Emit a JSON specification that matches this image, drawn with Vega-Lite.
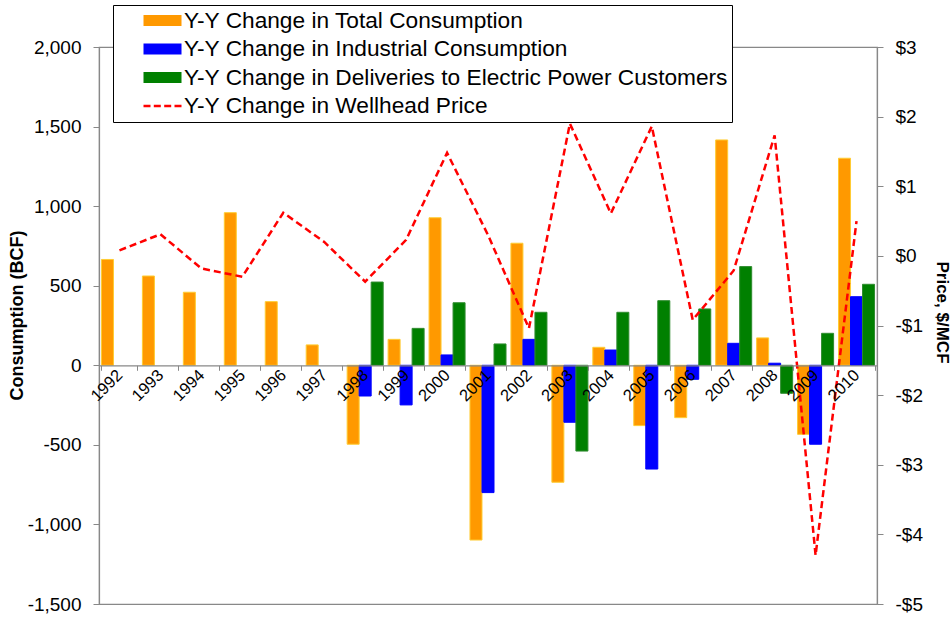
{
  "$schema": "https://vega.github.io/schema/vega-lite/v6.json",
  "width": 778,
  "height": 557,
  "autosize": {"type": "none"},
  "padding": {"left": 99, "top": 47, "right": 75, "bottom": 15},
  "background": "white",
  "config": {
    "font": "Liberation Sans",
    "view": {"stroke": "#888888", "strokeWidth": 1.2},
    "axis": {
      "grid": false,
      "domainColor": "#888888",
      "domainWidth": 1.2,
      "tickColor": "#888888",
      "labelColor": "#000000",
      "labelFont": "Liberation Sans",
      "labelFontSize": 19,
      "titleFont": "Liberation Sans",
      "titleColor": "#000000"
    }
  },
  "datasets": {
    "bars": [
      {"year": 1992, "series": "Y-Y Change in Total Consumption", "value": 665},
      {"year": 1993, "series": "Y-Y Change in Total Consumption", "value": 561},
      {"year": 1994, "series": "Y-Y Change in Total Consumption", "value": 459},
      {"year": 1995, "series": "Y-Y Change in Total Consumption", "value": 959},
      {"year": 1996, "series": "Y-Y Change in Total Consumption", "value": 400},
      {"year": 1997, "series": "Y-Y Change in Total Consumption", "value": 128},
      {"year": 1998, "series": "Y-Y Change in Total Consumption", "value": -496},
      {"year": 1998, "series": "Y-Y Change in Industrial Consumption", "value": -193},
      {"year": 1998, "series": "Y-Y Change in Deliveries to Electric Power Customers", "value": 523},
      {"year": 1999, "series": "Y-Y Change in Total Consumption", "value": 163},
      {"year": 1999, "series": "Y-Y Change in Industrial Consumption", "value": -249},
      {"year": 1999, "series": "Y-Y Change in Deliveries to Electric Power Customers", "value": 232},
      {"year": 2000, "series": "Y-Y Change in Total Consumption", "value": 927},
      {"year": 2000, "series": "Y-Y Change in Industrial Consumption", "value": 65},
      {"year": 2000, "series": "Y-Y Change in Deliveries to Electric Power Customers", "value": 393},
      {"year": 2001, "series": "Y-Y Change in Total Consumption", "value": -1098},
      {"year": 2001, "series": "Y-Y Change in Industrial Consumption", "value": -800},
      {"year": 2001, "series": "Y-Y Change in Deliveries to Electric Power Customers", "value": 134},
      {"year": 2002, "series": "Y-Y Change in Total Consumption", "value": 767},
      {"year": 2002, "series": "Y-Y Change in Industrial Consumption", "value": 163},
      {"year": 2002, "series": "Y-Y Change in Deliveries to Electric Power Customers", "value": 333},
      {"year": 2003, "series": "Y-Y Change in Total Consumption", "value": -735},
      {"year": 2003, "series": "Y-Y Change in Industrial Consumption", "value": -358},
      {"year": 2003, "series": "Y-Y Change in Deliveries to Electric Power Customers", "value": -539},
      {"year": 2004, "series": "Y-Y Change in Total Consumption", "value": 113},
      {"year": 2004, "series": "Y-Y Change in Industrial Consumption", "value": 96},
      {"year": 2004, "series": "Y-Y Change in Deliveries to Electric Power Customers", "value": 333},
      {"year": 2005, "series": "Y-Y Change in Total Consumption", "value": -379},
      {"year": 2005, "series": "Y-Y Change in Industrial Consumption", "value": -652},
      {"year": 2005, "series": "Y-Y Change in Deliveries to Electric Power Customers", "value": 406},
      {"year": 2006, "series": "Y-Y Change in Total Consumption", "value": -329},
      {"year": 2006, "series": "Y-Y Change in Industrial Consumption", "value": -88},
      {"year": 2006, "series": "Y-Y Change in Deliveries to Electric Power Customers", "value": 354},
      {"year": 2007, "series": "Y-Y Change in Total Consumption", "value": 1416},
      {"year": 2007, "series": "Y-Y Change in Industrial Consumption", "value": 138},
      {"year": 2007, "series": "Y-Y Change in Deliveries to Electric Power Customers", "value": 620},
      {"year": 2008, "series": "Y-Y Change in Total Consumption", "value": 172},
      {"year": 2008, "series": "Y-Y Change in Industrial Consumption", "value": 13},
      {"year": 2008, "series": "Y-Y Change in Deliveries to Electric Power Customers", "value": -176},
      {"year": 2009, "series": "Y-Y Change in Total Consumption", "value": -434},
      {"year": 2009, "series": "Y-Y Change in Industrial Consumption", "value": -496},
      {"year": 2009, "series": "Y-Y Change in Deliveries to Electric Power Customers", "value": 201},
      {"year": 2010, "series": "Y-Y Change in Total Consumption", "value": 1301},
      {"year": 2010, "series": "Y-Y Change in Industrial Consumption", "value": 431},
      {"year": 2010, "series": "Y-Y Change in Deliveries to Electric Power Customers", "value": 509}
    ],
    "price": [
      {"year": 1992, "price": 0.08},
      {"year": 1993, "price": 0.31},
      {"year": 1994, "price": -0.18},
      {"year": 1995, "price": -0.30},
      {"year": 1996, "price": 0.62},
      {"year": 1997, "price": 0.2},
      {"year": 1998, "price": -0.37},
      {"year": 1999, "price": 0.23},
      {"year": 2000, "price": 1.48},
      {"year": 2001, "price": 0.3},
      {"year": 2002, "price": -1.04},
      {"year": 2003, "price": 1.90},
      {"year": 2004, "price": 0.61},
      {"year": 2005, "price": 1.86},
      {"year": 2006, "price": -0.92},
      {"year": 2007, "price": -0.21},
      {"year": 2008, "price": 1.73},
      {"year": 2009, "price": -4.30},
      {"year": 2010, "price": 0.50}
    ]
  },
  "layer": [
    {
      "data": {"name": "bars"},
      "mark": {"type": "bar", "strokeWidth": 1},
      "encoding": {
        "x": {
          "field": "year",
          "type": "ordinal",
          "scale": {"paddingInner": 0.12, "paddingOuter": 0.06},
          "axis": {
            "title": null,
            "offset": -238.71,
            "zindex": 1,
            "tickBand": "extent",
            "tickSize": 5,
            "labelAngle": -45,
            "labelAlign": "right",
            "labelBaseline": "middle",
            "labelFontSize": 16.5,
            "labelPadding": 2,
            "labelDx": -2,
            "labelOverlap": false,
            "labelBound": false
          }
        },
        "xOffset": {
          "field": "series",
          "type": "nominal",
          "scale": {
            "domain": ["Y-Y Change in Total Consumption", "Y-Y Change in Industrial Consumption", "Y-Y Change in Deliveries to Electric Power Customers"],
            "paddingInner": 0,
            "paddingOuter": 0
          }
        },
        "y": {
          "field": "value",
          "type": "quantitative",
          "scale": {"domain": [-1500, 2000], "nice": false, "zero": false},
          "axis": {
            "title": "Consumption (BCF)",
            "values": [-1500, -1000, -500, 0, 500, 1000, 1500, 2000],
            "format": ",.0f",
            "labelExpr": "replace(datum.label, '\u2212', '-')",
            "tickSize": 6,
            "labelPadding": 12,
            "titleFontSize": 18,
            "titleFontWeight": "bold",
            "titleX": -82,
            "titleY": 268,
            "titleAngle": -90,
            "titleAlign": "center",
            "titleBaseline": "middle"
          }
        },
        "stroke": {
          "field": "series",
          "type": "nominal",
          "scale": {
            "domain": ["Y-Y Change in Total Consumption", "Y-Y Change in Industrial Consumption", "Y-Y Change in Deliveries to Electric Power Customers"],
            "range": ["#FFCC33", "#0000FF", "#2E8B2E"]
          },
          "legend": null
        },
        "color": {
          "field": "series",
          "type": "nominal",
          "scale": {
            "domain": ["Y-Y Change in Total Consumption", "Y-Y Change in Industrial Consumption", "Y-Y Change in Deliveries to Electric Power Customers", "Y-Y Change in Wellhead Price"],
            "range": ["#FF9900", "#0000FF", "#008000", "#FF0000"]
          },
          "legend": {
            "title": null,
            "orient": "none",
            "legendX": 14,
            "legendY": -42,
            "padding": 4,
            "fillColor": "white",
            "strokeColor": "#000000",
            "labelFont": "Liberation Sans",
            "labelFontSize": 22.7,
            "labelColor": "#000000",
            "labelLimit": 1000,
            "symbolSize": 400,
            "symbolOffset": 34,
            "labelOffset": 10,
            "rowPadding": 4.5,
            "encode": {
              "symbols": {
                "update": {
                  "shape": {"signal": "datum.value === 'Y-Y Change in Wellhead Price' ? 'M-1.9,0L-1.2,0M-0.87,0L-0.17,0M0.17,0L0.87,0M1.2,0L1.9,0' : 'M-1.9,-0.55L1.9,-0.55L1.9,0.55L-1.9,0.55Z'"},
                  "fill": {"signal": "datum.value === 'Y-Y Change in Wellhead Price' ? 'transparent' : scale('color', datum.value)"},
                  "stroke": {"signal": "datum.value === 'Y-Y Change in Wellhead Price' ? '#FF0000' : 'transparent'"},
                  "strokeWidth": {"value": 2.5},
                  "opacity": {"value": 1},
                  "fillOpacity": {"value": 1},
                  "strokeOpacity": {"value": 1}
                }
              }
            }
          }
        }
      }
    },
    {
      "data": {"name": "price"},
      "mark": {"type": "line", "color": "#FF0000", "strokeDash": [7, 4], "strokeWidth": 2.5},
      "encoding": {
        "x": {"field": "year", "type": "ordinal"},
        "y": {
          "field": "price",
          "type": "quantitative",
          "scale": {"domain": [-5, 3], "nice": false, "zero": false},
          "axis": {
            "orient": "right",
            "title": "Price, $/MCF",
            "values": [-5, -4, -3, -2, -1, 0, 1, 2, 3],
            "labelExpr": "datum.value < 0 ? '-$' + abs(datum.value) : '$' + datum.value",
            "tickSize": 6,
            "labelPadding": 12,
            "titleFontSize": 17,
            "titleFontWeight": "bold",
            "titleX": 64,
            "titleY": 265,
            "titleAngle": 90,
            "titleAlign": "center",
            "titleBaseline": "middle"
          }
        }
      }
    }
  ],
  "resolve": {"scale": {"y": "independent"}}
}
